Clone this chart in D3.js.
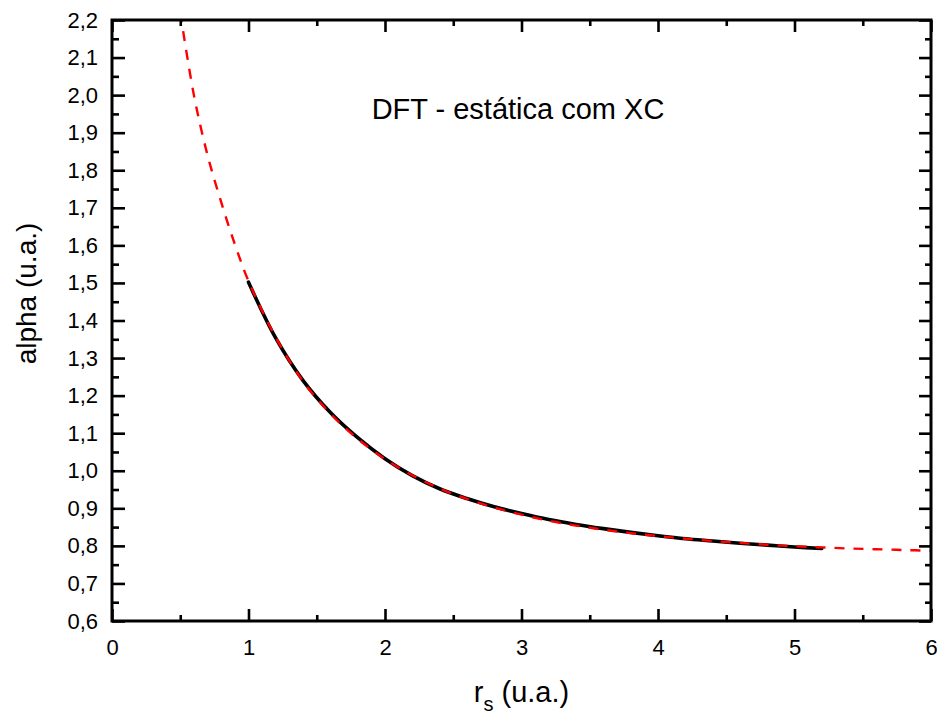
<!DOCTYPE html>
<html>
<head>
<meta charset="utf-8">
<script src="https://cdn.jsdelivr.net/npm/d3@7"></script>
<style>
  body { margin: 0; background: #fff; }
  text { font-family: "Liberation Sans", Arial, sans-serif; }
</style>
</head>
<body>
<svg id="chart" width="937" height="713"></svg>
<script>
// black: calculated points
var rsBlack = [1.0, 1.2, 1.4, 1.6, 1.8, 2.0, 2.2, 2.4, 2.6, 2.8, 3.0, 3.2, 3.4, 3.6, 3.8, 4.0, 4.2, 4.4, 4.6, 4.8, 5.0, 5.2]
var alphaBlack = [1.502, 1.353, 1.240, 1.155, 1.088, 1.032, 0.987, 0.952, 0.926, 0.904, 0.886, 0.870, 0.857, 0.846, 0.836, 0.827, 0.819, 0.813, 0.807, 0.802, 0.797, 0.793]

// red dashed: fit curve
var rsRed = [0.5, 0.6, 0.7, 0.8, 0.9, 1.0, 1.2, 1.4, 1.6, 1.8, 2.0, 2.2, 2.4, 2.6, 2.8, 3.0, 3.2, 3.4, 3.6, 3.8, 4.0, 4.2, 4.4, 4.6, 4.8, 5.0, 5.2, 5.4, 5.6, 5.8, 6.0]
var alphaRed = [2.22, 2.00, 1.84, 1.715, 1.603, 1.505, 1.355, 1.238, 1.152, 1.085, 1.031, 0.988, 0.953, 0.925, 0.902, 0.883, 0.867, 0.854, 0.843, 0.834, 0.826, 0.819, 0.813, 0.808, 0.803, 0.799, 0.796, 0.793, 0.791, 0.789, 0.787]

var xTicks = [0, 1, 2, 3, 4, 5, 6]
var xMinor = [0.5, 1.5, 2.5, 3.5, 4.5, 5.5]
var yTicks = [0.6, 0.7, 0.8, 0.9, 1.0, 1.1, 1.2, 1.3, 1.4, 1.5, 1.6, 1.7, 1.8, 1.9, 2.0, 2.1, 2.2]
var yMinor = [0.65, 0.75, 0.85, 0.95, 1.05, 1.15, 1.25, 1.35, 1.45, 1.55, 1.65, 1.75, 1.85, 1.95, 2.05, 2.15]

var dims = {
    left: 112,
    right: 931,
    top: 20,
    bottom: 621
}

var svg = d3.select("#chart")

var xScale = d3.scaleLinear().domain([0, 6]).range([dims.left, dims.right])
var yScale = d3.scaleLinear().domain([0.6, 2.2]).range([dims.bottom, dims.top])

var comma = d => d3.format(".1f")(d).replace(".", ",")

svg.append("defs").append("clipPath").attr("id", "plotclip")
    .append("rect")
    .attr("x", dims.left).attr("y", dims.top)
    .attr("width", dims.right - dims.left).attr("height", dims.bottom - dims.top)

var line = d3.line()
    .x(d => xScale(d[0]))
    .y(d => yScale(d[1]))
    .curve(d3.curveCatmullRom)

var blackData = rsBlack.map((r, i) => [r, alphaBlack[i]])
var redData = rsRed.map((r, i) => [r, alphaRed[i]])

var plot = svg.append("g").attr("clip-path", "url(#plotclip)")

plot.append("path")
    .datum(blackData)
    .attr("d", line)
    .attr("fill", "none")
    .attr("stroke", "black")
    .attr("stroke-width", 3.6)
    .attr("stroke-linecap", "round")

plot.append("path")
    .datum(redData)
    .attr("d", line)
    .attr("fill", "none")
    .attr("stroke", "#ff0000")
    .attr("stroke-width", 2.4)
    .attr("stroke-dasharray", "10,9")

// axes, ticks pointing inward on all four sides
function styleAxis(g) {
    g.select(".domain").remove()
    g.selectAll(".tick line").attr("stroke", "black").attr("stroke-width", 2.6)
    g.selectAll("text").attr("font-size", 22).attr("fill", "black")
        .style("font-family", "'Liberation Sans', Arial, sans-serif")
}

svg.append("g")
    .attr("transform", `translate(0,${dims.bottom})`)
    .call(d3.axisBottom(xScale).tickValues(xTicks).tickSize(-12).tickPadding(18).tickFormat(d3.format("d")))
    .call(styleAxis)
svg.append("g")
    .attr("transform", `translate(0,${dims.bottom})`)
    .call(d3.axisBottom(xScale).tickValues(xMinor).tickSize(-6).tickFormat(""))
    .call(styleAxis)
svg.append("g")
    .attr("transform", `translate(0,${dims.top})`)
    .call(d3.axisTop(xScale).tickValues(xTicks).tickSize(-12).tickFormat(""))
    .call(styleAxis)
svg.append("g")
    .attr("transform", `translate(0,${dims.top})`)
    .call(d3.axisTop(xScale).tickValues(xMinor).tickSize(-6).tickFormat(""))
    .call(styleAxis)

svg.append("g")
    .attr("transform", `translate(${dims.left},0)`)
    .call(d3.axisLeft(yScale).tickValues(yTicks).tickSize(-13).tickPadding(14).tickFormat(comma))
    .call(styleAxis)
svg.append("g")
    .attr("transform", `translate(${dims.left},0)`)
    .call(d3.axisLeft(yScale).tickValues(yMinor).tickSize(-7).tickFormat(""))
    .call(styleAxis)
svg.append("g")
    .attr("transform", `translate(${dims.right},0)`)
    .call(d3.axisRight(yScale).tickValues(yTicks).tickSize(-12).tickFormat(""))
    .call(styleAxis)
svg.append("g")
    .attr("transform", `translate(${dims.right},0)`)
    .call(d3.axisRight(yScale).tickValues(yMinor).tickSize(-6).tickFormat(""))
    .call(styleAxis)

// frame
svg.append("rect")
    .attr("x", dims.left).attr("y", dims.top)
    .attr("width", dims.right - dims.left).attr("height", dims.bottom - dims.top)
    .attr("fill", "none")
    .attr("stroke", "black")
    .attr("stroke-width", 3)

// titles
var xTitle = svg.append("text")
    .attr("x", (dims.left + dims.right) / 2)
    .attr("y", 702)
    .attr("text-anchor", "middle")
    .attr("font-size", 29)
xTitle.append("tspan").text("r")
xTitle.append("tspan").attr("font-size", 20).attr("dy", 9).text("s")
xTitle.append("tspan").attr("dy", -9).text(" (u.a.)")

svg.append("text")
    .attr("transform", `translate(36,${(dims.top + dims.bottom) / 2 - 27}) rotate(-90)`)
    .attr("text-anchor", "middle")
    .attr("font-size", 28)
    .text("alpha (u.a.)")

svg.append("text")
    .attr("x", 518)
    .attr("y", 119)
    .attr("text-anchor", "middle")
    .attr("font-size", 29)
    .text("DFT - estática com XC")
</script>
</body>
</html>
